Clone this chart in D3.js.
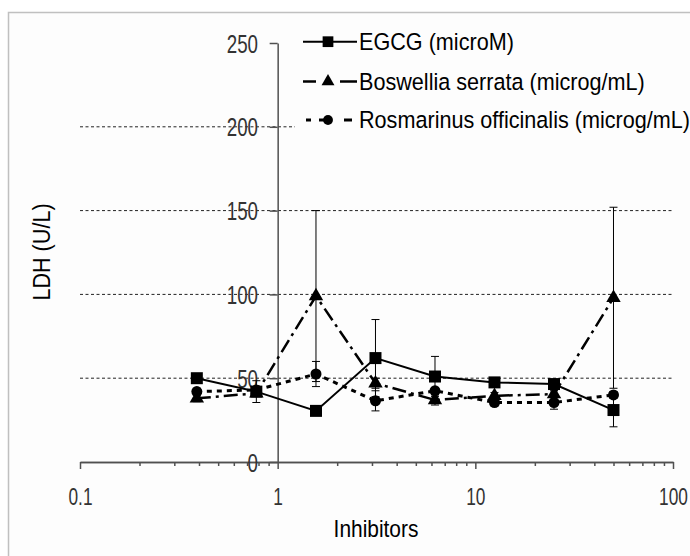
<!DOCTYPE html>
<html><head><meta charset="utf-8">
<script src="https://cdn.jsdelivr.net/npm/d3@7"></script>
<style>html,body{margin:0;padding:0;background:#fff;overflow:hidden}svg{display:block}</style>
</head><body>
<svg id="c" width="690" height="556"></svg>
<script>
// ---- data ----
const doses = [0.39, 0.78, 1.5625, 3.125, 6.25, 12.5, 25, 50];
const seriesNames = ["EGCG (microM)", "Boswellia serrata (microg/mL)", "Rosmarinus officinalis (microg/mL)"];
const egcgMean = [50, 42, 30.5, 62, 51, 47.5, 46.5, 31];
const egcgErr  = [2, 6.5, 2, 23, 12, 2, 2, 10];
const boswMean = [38, 41, 99, 47, 37, 39.5, 40.5, 98];
const boswErr  = [2, 2, 51, 3, 3, 2, 2, 54];
const rosmMean = [42, 43, 52.5, 36.5, 42.5, 35.5, 35.5, 40];
const rosmErr  = [2, 2, 7.5, 6, 2, 2, 4, 2];
const xMajor = [0.1, 1, 10, 100];
const yTicks = [0, 50, 100, 150, 200, 250];
const yGrid = [50, 100, 150, 200];
const xTitle = "Inhibitors";
const yTitle = "LDH (U/L)";

const svg = d3.select("#c");
const FONT = "'Liberation Sans', Arial, sans-serif";
const x = d3.scaleLog().domain([0.1, 100]).range([80, 673]);
const y = d3.scaleLinear().domain([0, 250]).range([462, 43]);

// frame
svg.append("rect").attr("x", 8.5).attr("y", 12.5).attr("width", 700).attr("height", 560)
  .attr("fill", "#fdfdfd").attr("stroke", "#c0c0c0").attr("stroke-width", 1.5);

// gridlines
svg.append("g").selectAll("line").data(yGrid).join("line")
  .attr("x1", x(0.1)).attr("x2", x(100)).attr("y1", d => y(d)).attr("y2", d => y(d))
  .attr("stroke", "#222").attr("stroke-width", 1).attr("stroke-dasharray", "3,2.5");

// minor x ticks
const minor = [];
for (let dec = 0.1; dec < 100; dec *= 10) for (let k = 2; k <= 9; k++) minor.push(+(dec * k).toPrecision(3));
const axColor = "#505050";
const gxMinor = svg.append("g").attr("transform", `translate(0,${y(0)})`)
  .call(d3.axisBottom(x).tickValues(minor).tickSize(4).tickSizeOuter(0).tickFormat(""));
const gx = svg.append("g").attr("transform", `translate(0,${y(0)})`)
  .call(d3.axisBottom(x).tickValues(xMajor).tickSize(7).tickSizeOuter(0).tickFormat(d3.format("~g")));
[gxMinor, gx].forEach(g => {
  g.selectAll("path,line").attr("stroke", axColor).attr("stroke-width", 1.5);
});
gx.selectAll(".tick text").attr("fill", "#333").attr("font-family", FONT).attr("font-size", 24)
  .attr("y", 43).attr("dy", 0).attr("transform", "scale(0.72,1)");

// y axis at x = 1
const gy = svg.append("g").attr("transform", `translate(${x(1)},0)`)
  .call(d3.axisLeft(y).tickValues(yTicks).tickSize(8).tickSizeOuter(0));
gy.selectAll("path,line").attr("stroke", axColor).attr("stroke-width", 1.5);
gy.selectAll(".tick text").attr("fill", "#333").attr("font-family", FONT).attr("font-size", 25)
  .attr("x", -19.7 / 0.75).attr("dy", 0).attr("y", 9).attr("transform", "scale(0.75,1)");

// titles
svg.append("text").attr("font-family", FONT).attr("font-size", 23).attr("text-anchor", "middle")
  .attr("transform", `translate(376,536.5) scale(0.91,1)`).text(xTitle);
svg.append("text").attr("font-family", FONT).attr("font-size", 24).attr("text-anchor", "middle")
  .attr("transform", `translate(50,252) rotate(-90) scale(0.9,1)`).text(yTitle);

// series
const series = [
  {name: seriesNames[0], mean: egcgMean, err: egcgErr, dash: null, legDash: null, w: 2, sym: d3.symbolSquare, size: 144},
  {name: seriesNames[1], mean: boswMean, err: boswErr, dash: "14,5,3,5", legDash: "13,24,17", w: 2.5, sym: d3.symbolTriangle, size: 90},
  {name: seriesNames[2], mean: rosmMean, err: rosmErr, dash: "5,5", legDash: "0,3,5,8,5,20,5", w: 3, sym: d3.symbolCircle, size: 95}
];
const line = d3.line().x(d => x(d[0])).y(d => y(d[1]));
series.forEach(s => {
  const g = svg.append("g");
  const pts = doses.map((d, i) => [d, s.mean[i], s.err[i]]);
  // error bars
  const eb = g.append("g").attr("stroke", "#000").attr("stroke-width", 1);
  pts.forEach(p => {
    const cx = x(p[0]);
    eb.append("line").attr("x1", cx).attr("x2", cx).attr("y1", y(p[1] - p[2])).attr("y2", y(p[1] + p[2]));
    [p[1] - p[2], p[1] + p[2]].forEach(v =>
      eb.append("line").attr("x1", cx - 4).attr("x2", cx + 4).attr("y1", y(v)).attr("y2", y(v)));
  });
  g.append("path").datum(pts).attr("d", line).attr("fill", "none").attr("stroke", "#000")
    .attr("stroke-width", s.w).attr("stroke-dasharray", s.dash);
  g.selectAll(".m").data(pts).join("path")
    .attr("transform", d => `translate(${x(d[0])},${y(d[1])})`)
    .attr("d", d3.symbol().type(s.sym).size(s.size)).attr("fill", "#000");
});

// legend
const lg = svg.append("g");
lg.append("rect").attr("x", 295).attr("y", 22).attr("width", 400).attr("height", 118).attr("fill", "#fdfdfd");
const legY = [41.7, 81.5, 120];
series.forEach((s, i) => {
  const cy = legY[i];
  lg.append("line").attr("x1", 303).attr("x2", 357).attr("y1", cy).attr("y2", cy)
    .attr("stroke", "#000").attr("stroke-width", s.w).attr("stroke-dasharray", s.legDash);
  lg.append("path").attr("transform", `translate(328,${cy})`)
    .attr("d", d3.symbol().type(s.sym).size(s.size * 0.8)).attr("fill", "#000");
  lg.append("text").attr("font-family", FONT).attr("font-size", 23)
    .attr("transform", `translate(359,${cy + 8.3}) scale(0.94,1.05)`).text(s.name);
});
</script>
</body></html>
